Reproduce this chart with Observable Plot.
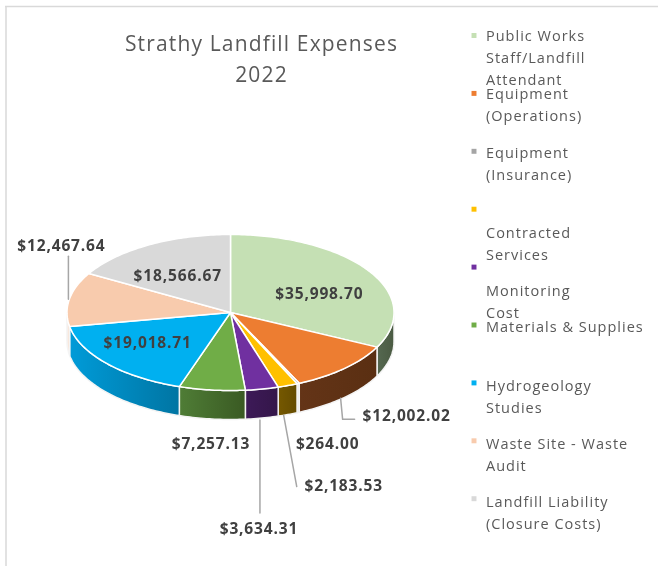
<!DOCTYPE html>
<html>
<head>
<meta charset="utf-8">
<script src="https://cdn.jsdelivr.net/npm/d3@7"></script>
<script src="https://cdn.jsdelivr.net/npm/@observablehq/plot@0.6"></script>
<style>
html,body{margin:0;padding:0;background:#fff;overflow:hidden}
svg{display:block;filter:blur(0.35px)}
</style>
</head>
<body>
<div id="chart"></div>
<script>
// ---- data ----
const titleLines = ["Strathy Landfill Expenses", "2022"];
const categories = [
  "Public Works\nStaff/Landfill\nAttendant",
  "Equipment\n(Operations)",
  "Equipment\n(Insurance)",
  "\nContracted\nServices",
  "\nMonitoring\nCost",
  "Materials & Supplies",
  "Hydrogeology\nStudies",
  "Waste Site - Waste\nAudit",
  "Landfill Liability\n(Closure Costs)"
];
const values = [35998.70, 12002.02, 264.00, 2183.53, 3634.31, 7257.13, 19018.71, 12467.64, 18566.67];
const colors = ["#C5E0B4", "#ED7D31", "#A5A5A5", "#FFC000", "#7030A0", "#70AD47", "#00B0F0", "#F8CBAD", "#D9D9D9"];
const wallLight = ["#556850", "#643417", "#ececec", "#755800", "#3d1a58", "#4f7d36", "#009bd8", "#f9e6da", "#bbbbbb"];
const wallDark  = ["#4a5a42", "#5a2f12", "#e4e4e4", "#654c00", "#341649", "#3a5a23", "#0075a3", "#f9e6da", "#aaaaaa"];

// ---- layout ----
const W = 658, H = 566;
const pieC = {x: 230, y: 312, rx: 163.5, ry: 78, depth: 29};
const labelOffset = [[-50,23],[62,48],[29.5,61],[56,100],[-3,140],[-1,54.5],[40.5,-21],[-8,-53],[29,31.5]];
const leaderOffset = [null,[[-4,30],[-2,51],[10,51]],null,[[-4,30],[9,101]],[[-2,31],[-2,124]],null,null,[[-1,0],[-1,-43]],null];
const legend = {markerX: 473.5, textX: 485.5, markerTop: 35, markerStep: 57.9, textTop: 36, textStep: 58.25, lead: 22};

// ---- geometry from the values ----
const fmt = d3.format("$,.2f");
const arcs = d3.pie().sort(null).value(d => d)(values);
const rim = (a, drop = 0) => ({x: pieC.x + pieC.rx * Math.sin(a), y: pieC.y - pieC.ry * Math.cos(a) + drop});
const STEP = Math.PI / 180;
const sweep = (a0, a1) => { const n = Math.max(1, Math.ceil((a1 - a0) / STEP)); return d3.range(n + 1).map(k => a0 + (a1 - a0) * k / n); };

const topPts = arcs.flatMap((s, i) => {
  const ring = sweep(s.startAngle, s.endAngle).map(a => rim(a));
  const c = {x: pieC.x, y: pieC.y};
  return [c, ...ring, c].map(p => ({...p, i}));
});
const wallPts = arcs.flatMap((s, i) => {
  const a0 = Math.max(s.startAngle, Math.PI / 2), a1 = Math.min(s.endAngle, 3 * Math.PI / 2);
  if (a1 <= a0) return [];
  const front = sweep(a0, a1);
  const ring = [...front.map(a => rim(a)), ...front.slice().reverse().map(a => rim(a, pieC.depth))];
  return [...ring, ring[0]].map(p => ({...p, i}));
});
const labels = arcs.map((s, i) => {
  const m = rim((s.startAngle + s.endAngle) / 2);
  return {x: m.x + labelOffset[i][0], y: m.y + labelOffset[i][1], text: fmt(values[i])};
});
const leaders = arcs.flatMap((s, i) => {
  if (!leaderOffset[i]) return [];
  const m = rim((s.startAngle + s.endAngle) / 2);
  return leaderOffset[i].map(o => ({x: m.x + o[0], y: m.y + o[1], i}));
});
const legendMarks = categories.map((c, i) => ({x: legend.markerX, y: legend.markerTop + i * legend.markerStep, i}));
const legendText = categories.flatMap((c, i) => c.split("\n").map((t, j) => ({
  x: legend.textX, y: legend.textTop + i * legend.textStep + j * legend.lead, t
}))).filter(d => d.t);

const defs = () => {
  const g = d3.create("svg:defs");
  values.forEach((v, i) => {
    const lg = g.append("linearGradient").attr("id", "wall" + i);
    lg.append("stop").attr("offset", "0%").attr("stop-color", wallLight[i]);
    lg.append("stop").attr("offset", "100%").attr("stop-color", wallDark[i]);
  });
  return g.node();
};

const chart = Plot.plot({
  width: W, height: H, margin: 0,
  x: {domain: [0, W], range: [0, W], axis: null},
  y: {domain: [0, H], range: [0, H], axis: null},
  style: {background: "#fff", fontFamily: "'Open Sans', sans-serif"},
  marks: [
    defs,
    Plot.ruleX([5.5], {y1: 6, y2: H, stroke: "#d9d9d9", strokeWidth: 1.5}),
    Plot.ruleY([6], {x1: 5, x2: W, stroke: "#d9d9d9", strokeWidth: 1.5}),
    Plot.line(wallPts, {x: "x", y: "y", z: "i", fill: {value: d => `url(#wall${d.i})`, scale: null}, stroke: "#f4f4f4", strokeWidth: 1.5}),
    Plot.line(topPts, {x: "x", y: "y", z: "i", fill: {value: d => colors[d.i], scale: null}, stroke: "#fff", strokeWidth: 1.5}),
    Plot.line(leaders, {x: "x", y: "y", z: "i", stroke: "#a6a6a6", strokeWidth: 1.5}),
    Plot.text(labels, {x: "x", y: "y", text: "text", fill: "#404040", fontSize: 15.5, fontWeight: 700, textAnchor: "middle", lineAnchor: "middle"}),
    Plot.text(titleLines, {x: () => 261, y: (d, i) => 44 + i * 31, text: d => d, fill: "#595959", fontSize: 21, textAnchor: "middle", lineAnchor: "middle"}),
    Plot.dot(legendMarks, {x: "x", y: "y", symbol: "square", r: 2.8, fill: d => colors[d.i], stroke: "none"}),
    Plot.text(legendText, {x: "x", y: "y", text: "t", fill: "#595959", fontSize: 14.5, textAnchor: "start", lineAnchor: "middle"})
  ]
});
// per-group letter spacing, in the order of the text marks above
const textGroups = chart.querySelectorAll('g[aria-label="text"]');
["0.85px", "1.15px", "1px"].forEach((s, i) => { if (textGroups[i]) textGroups[i].style.letterSpacing = s; });
document.getElementById("chart").appendChild(chart);
</script>
</body>
</html>
